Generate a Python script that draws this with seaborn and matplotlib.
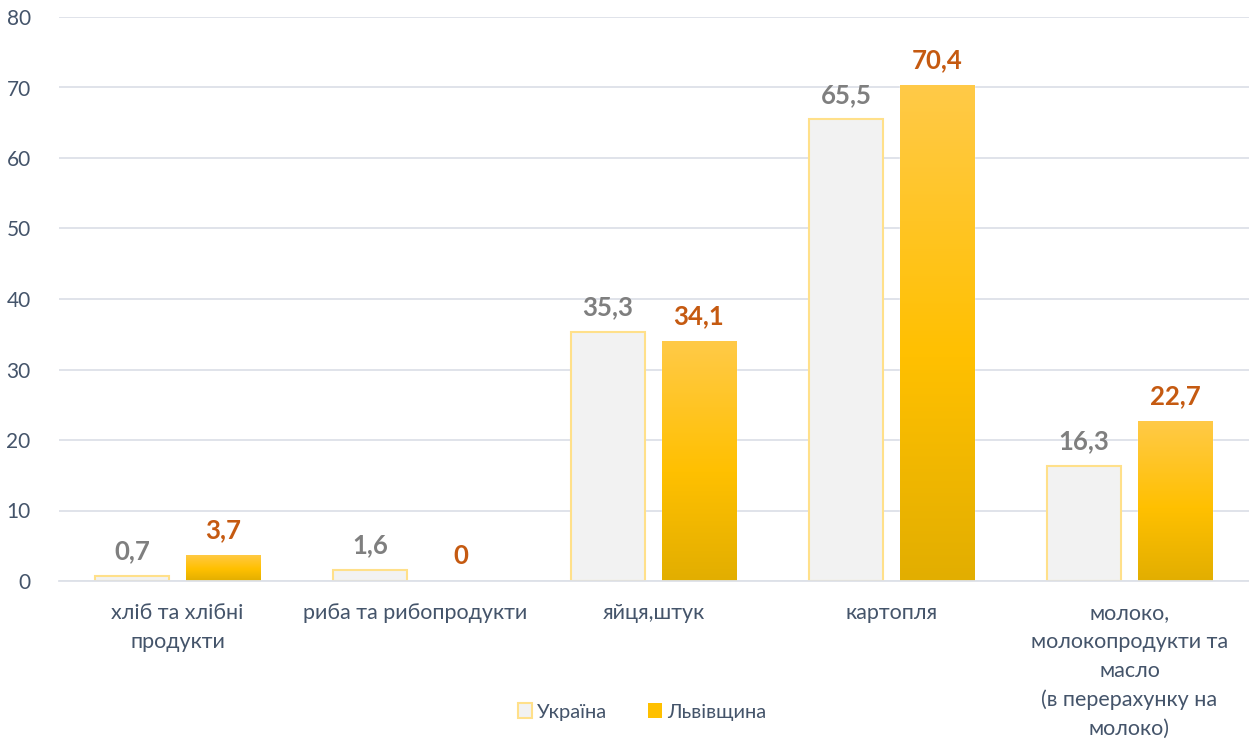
import numpy as np
import pandas as pd
import matplotlib.pyplot as plt
import seaborn as sns
from matplotlib.colors import LinearSegmentedColormap
from matplotlib.patches import Patch

# Дані
categories = ['хліб та хлібні\nпродукти', 'риба та рибопродукти', 'яйця,штук', 'картопля',
              'молоко,\nмолокопродукти та\nмасло\n(в перерахунку на\nмолоко)']
series = ['Україна', 'Львівщина']
ukraine = [0.7, 1.6, 35.3, 65.5, 16.3]
lviv = [3.7, 0, 34.1, 70.4, 22.7]
yticks = [0, 10, 20, 30, 40, 50, 60, 70, 80]

df = pd.DataFrame({
    'cat': categories * 2,
    'value': ukraine + lviv,
    'series': [series[0]] * len(categories) + [series[1]] * len(categories),
})

sns.set_style('white')
plt.rcParams['font.family'] = ['Lato', 'DejaVu Sans']

text_col = '#44546A'
grid_col = '#DDE1E8'

fig = plt.figure(figsize=(12.49, 7.4), dpi=100)
ax = fig.add_axes([58.5 / 1249, 159 / 740, 1190 / 1249, 564 / 740])

sns.barplot(data=df, x='cat', y='value', hue='series', order=categories,
            hue_order=series, palette=['#F2F2F2', '#FFC000'], width=0.765,
            gap=0.187, ax=ax, legend=False, saturation=1)

uk_bars = ax.containers[0]
lv_bars = ax.containers[1]
for p in uk_bars:
    p.set_edgecolor('#FFE08A')
    p.set_linewidth(1.5)

# градієнт для стовпців Львівщини
cmap = LinearSegmentedColormap.from_list(
    'gold', [(0, '#FFCA48'), (0.55, '#FFC000'), (1, '#E2AE00')])
grad = np.linspace(0, 1, 256).reshape(-1, 1)
for p in lv_bars:
    h = p.get_height()
    if h <= 0:
        continue
    p.set_facecolor('none')
    x0 = p.get_x()
    w = p.get_width()
    im = ax.imshow(grad, cmap=cmap, aspect='auto', extent=[x0, x0 + w, 0, h],
                   origin='upper', zorder=p.get_zorder())
    im.set_clip_path(p)

ax.set_xlim(-0.5, len(categories) - 0.5)
ax.set_ylim(0, 80)
ax.set_yticks(yticks)
ax.yaxis.grid(True, color=grid_col, linewidth=1.3)
ax.set_axisbelow(True)
for s in ['top', 'right', 'left']:
    ax.spines[s].set_visible(False)
ax.spines['bottom'].set_color(grid_col)
ax.spines['bottom'].set_linewidth(1.3)
ax.tick_params(axis='both', length=0, colors=text_col)
ax.tick_params(axis='y', pad=20, labelsize=15)
ax.tick_params(axis='x', pad=16)
ax.set_xlabel('')
ax.set_ylabel('')
for lbl in ax.get_xticklabels():
    lbl.set_linespacing(1.54)
    lbl.set_fontsize(15.5)

def fmt(v):
    return ('%g' % v).replace('.', ',')

ax.bar_label(uk_bars, labels=[fmt(v) for v in ukraine], padding=9,
             color='#7F7F7F', fontsize=18.5, fontweight='bold')
ax.bar_label(lv_bars, labels=[fmt(v) for v in lviv], padding=9,
             color='#C55A11', fontsize=18.5, fontweight='bold')

handles = [Patch(facecolor='#F2F2F2', edgecolor='#FFE08A', linewidth=1.5),
           Patch(facecolor='#FFC000', edgecolor='none')]
fig.legend(handles, series, loc='center', bbox_to_anchor=(642 / 1249, 1 - 712 / 740),
           ncol=2, frameon=False, fontsize=14.5, labelcolor=text_col,
           handlelength=0.7, handleheight=0.7, handletextpad=0.25, columnspacing=2.0)

fig.savefig('out.png', dpi=100)
